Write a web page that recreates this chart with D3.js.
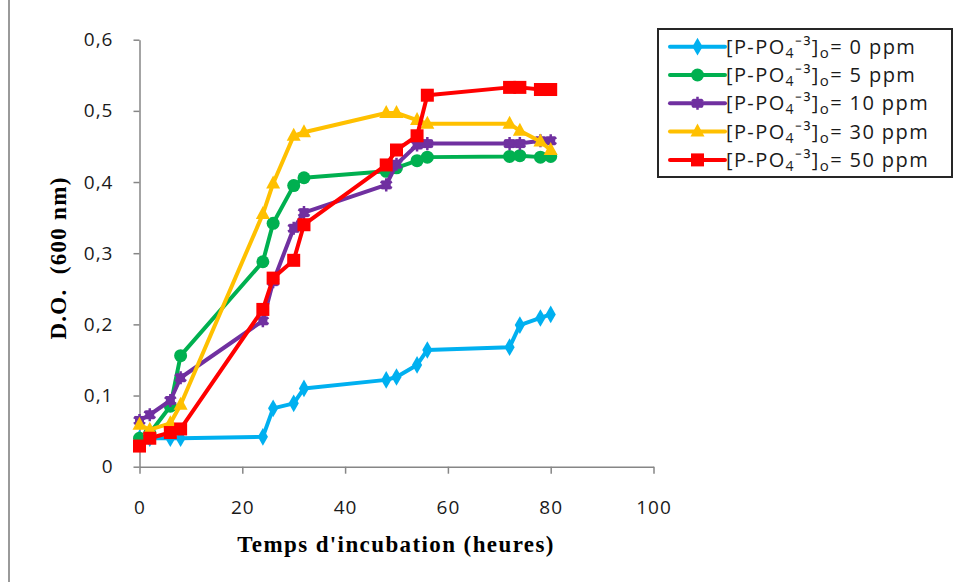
<!DOCTYPE html>
<html>
<head>
<meta charset="utf-8">
<script src="https://cdn.jsdelivr.net/npm/d3@7"></script>
<style>
  body { margin: 0; background: #fff; }
  #chart { width: 957px; height: 582px; }
</style>
</head>
<body>
<div id="chart"></div>
<script>
// hours of incubation
const times = [0, 2, 6, 8, 24, 26, 30, 32, 48, 50, 54, 56, 72, 74, 78, 80];
// optical density D.O. (600 nm) for each initial P-PO4 concentration
const do0 = [0.04, 0.04, 0.04, 0.04, 0.042, 0.082, 0.089, 0.11, 0.122, 0.126, 0.143, 0.164, 0.168, 0.199, 0.209, 0.214];
const do5 = [0.04, 0.047, 0.085, 0.156, 0.288, 0.342, 0.395, 0.406, 0.415, 0.42, 0.43, 0.435, 0.436, 0.437, 0.435, 0.436];
const do10 = [0.065, 0.073, 0.093, 0.125, 0.205, 0.26, 0.335, 0.357, 0.396, 0.425, 0.452, 0.454, 0.454, 0.454, 0.458, 0.458];
const do30 = [0.059, 0.052, 0.061, 0.087, 0.355, 0.398, 0.465, 0.47, 0.497, 0.497, 0.487, 0.482, 0.482, 0.472, 0.457, 0.445];
const do50 = [0.029, 0.04, 0.048, 0.053, 0.221, 0.265, 0.29, 0.34, 0.424, 0.445, 0.465, 0.522, 0.533, 0.533, 0.53, 0.53];
const concentrations = ["0", "5", "10", "30", "50"];
const xTicks = [0, 20, 40, 60, 80, 100];
const yTicks = [0, 0.1, 0.2, 0.3, 0.4, 0.5, 0.6];

class ScatterLines {
  constructor(container) {
    this.container = d3.select(container);
    this.width = 957;
    this.height = 582;
    this.svg = this.container.append("svg").attr("width", this.width).attr("height", this.height);
    this.series = [do0, do5, do10, do30, do50].map((vals, i) => ({
      label: concentrations[i],
      values: vals.map((v, j) => ({ t: times[j], v: v })),
    }));
    this.colors = ["#00b0f0", "#00b050", "#7030a0", "#ffc000", "#ff0000"];
    this.markers = ["diamond", "circle", "star", "triangle", "square"];
    this.xScale = d3.scaleLinear().domain([0, 100]).range([139.5, 653.5]);
    this.yScale = d3.scaleLinear().domain([0, 0.6]).range([466.7, 39.7]);
    this.draw();
  }

  marker = (sel, type, color) => {
    if (type === "diamond") sel.append("path").attr("d", d3.symbol(d3.symbolDiamond, 90)()).attr("fill", color);
    if (type === "circle") sel.append("circle").attr("r", 6.5).attr("fill", color);
    if (type === "square") sel.append("rect").attr("x", -6.5).attr("y", -6.5).attr("width", 13).attr("height", 13).attr("fill", color);
    if (type === "triangle") sel.append("path").attr("d", "M0,-8L7,5L-7,5Z").attr("fill", color);
    if (type === "star") {
      sel.append("rect").attr("x", -4.5).attr("y", -4.5).attr("width", 9).attr("height", 9).attr("fill", color);
      sel.append("path").attr("d", d3.symbol(d3.symbolAsterisk, 120)()).attr("stroke", color).attr("stroke-width", 2.5).attr("fill", "none");
    }
  };

  draw = () => {
    const svg = this.svg;
    const x = this.xScale;
    const y = this.yScale;

    // page edge line from the scanned document
    svg.append("line").attr("x1", 9).attr("x2", 9).attr("y1", 0).attr("y2", this.height).attr("stroke", "#9a9a9a").attr("stroke-width", 2);

    const fmt = (d) => (d === 0 ? "0" : d3.format(".1f")(d).replace(".", ","));
    const yAxis = svg
      .append("g")
      .attr("transform", `translate(${x(0)},0)`)
      .call(d3.axisLeft(y).tickValues(yTicks).tickFormat(fmt).tickSize(6).tickSizeOuter(0).tickPadding(20));
    const xAxis = svg
      .append("g")
      .attr("transform", `translate(0,${y(0)})`)
      .call(d3.axisBottom(x).tickValues(xTicks).tickSize(7).tickSizeOuter(0).tickPadding(27));
    [xAxis, yAxis].forEach((a) => {
      a.select(".domain").attr("stroke", "#868686").attr("stroke-width", 1.5);
      a.selectAll(".tick line").attr("stroke", "#868686").attr("stroke-width", 1.5);
      a.selectAll("text")
        .attr("font-family", "'Open Sans', sans-serif")
        .attr("font-size", 19)
        .attr("letter-spacing", 1)
        .attr("fill", "#1a1a1a");
    });

    svg
      .append("text")
      .text("Temps d'incubation (heures)")
      .attr("x", 396)
      .attr("y", 552)
      .attr("text-anchor", "middle")
      .attr("font-family", "'Liberation Serif', serif")
      .attr("font-weight", "bold")
      .attr("font-size", 23)
      .attr("letter-spacing", 1.4);
    svg
      .append("text")
      .text("D.O.\u00a0\u00a0(600 nm)")
      .attr("transform", "translate(66,258) rotate(-90)")
      .attr("text-anchor", "middle")
      .attr("font-family", "'Liberation Serif', serif")
      .attr("font-weight", "bold")
      .attr("font-size", 23)
      .attr("letter-spacing", 1.3);

    const line = d3
      .line()
      .x((d) => x(d.t))
      .y((d) => y(d.v));
    const groups = svg.append("g").selectAll("g").data(this.series).join("g");
    groups
      .append("path")
      .attr("d", (d) => line(d.values))
      .attr("fill", "none")
      .attr("stroke", (d, i) => this.colors[i])
      .attr("stroke-width", 4)
      .attr("stroke-linejoin", "round");
    groups.each((d, i, nodes) => {
      d3.select(nodes[i])
        .selectAll("g.pt")
        .data(d.values)
        .join("g")
        .attr("class", "pt")
        .attr("transform", (p) => `translate(${x(p.t)},${y(p.v)})`)
        .each((p, k, pts) => this.marker(d3.select(pts[k]), this.markers[i], this.colors[i]));
    });

    // legend
    const lg = svg.append("g");
    lg.append("rect").attr("x", 658).attr("y", 29).attr("width", 294).attr("height", 148).attr("fill", "#fff").attr("stroke", "#262626").attr("stroke-width", 2);
    const items = lg
      .selectAll("g")
      .data(this.series)
      .join("g")
      .attr("transform", (d, i) => `translate(670,${46.7 + i * 28.3})`);
    items
      .append("line")
      .attr("x1", 0)
      .attr("x2", 55)
      .attr("stroke", (d, i) => this.colors[i])
      .attr("stroke-width", 4)
      .attr("stroke-linecap", "round");
    items.each((d, i, nodes) => {
      const m = d3.select(nodes[i]).append("g").attr("transform", "translate(27.5,0)");
      this.marker(m, this.markers[i], this.colors[i]);
    });
    const txt = items
      .append("text")
      .attr("x", 56)
      .attr("y", 7)
      .attr("font-family", "'Open Sans', sans-serif")
      .attr("font-size", 20)
      .attr("letter-spacing", 1.4)
      .attr("fill", "#1a1a1a");
    txt.append("tspan").text("[P-PO");
    txt.append("tspan").text("4").attr("font-size", 14).attr("dy", 4);
    txt.append("tspan").text("\u207b\u00b3").attr("font-size", 20).attr("dy", -5);
    txt.append("tspan").text("]").attr("dy", 1);
    txt.append("tspan").text("o").attr("font-size", 15).attr("dy", 4);
    txt.append("tspan").text((d) => "= " + d.label + " ppm").attr("dy", -4);
  };
}

new ScatterLines("#chart");
</script>
</body>
</html>
